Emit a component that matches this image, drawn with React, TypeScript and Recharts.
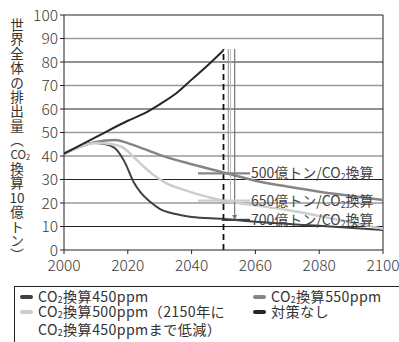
import React from "react";
import { LineChart, Line, XAxis, YAxis, ReferenceLine } from "recharts";

const FONT = "'Noto Sans CJK JP', 'Noto Sans', sans-serif";

// series: year / value (10億トン CO2換算)
const years450 = [2000, 2005, 2009, 2013, 2016, 2019, 2022, 2024, 2027, 2030, 2035, 2040, 2050, 2060, 2080, 2100];
const values450 = [41, 44, 45.5, 45, 43.3, 37.5, 28.5, 24.5, 20.5, 17.5, 15.3, 14, 13.2, 12, 10.3, 8.5];

const years550 = [2000, 2005, 2010, 2016, 2020, 2025, 2030, 2040, 2050, 2060, 2070, 2080, 2090, 2100];
const values550 = [41, 44, 46, 46.8, 45.5, 43, 40.5, 36.5, 33, 29.5, 27, 24.8, 23, 21.3];

const years500 = [2000, 2005, 2010, 2015, 2018, 2020, 2023, 2025, 2028, 2032, 2036, 2041, 2050, 2060, 2070, 2080, 2090, 2100];
const values500 = [41, 44, 45.5, 45, 44, 42, 38, 35.5, 32, 28.5, 26.3, 24.1, 21, 19, 17, 14.5, 11.8, 9];

const yearsNone = [2000, 2010, 2020, 2025, 2030, 2035, 2040, 2045, 2050];
const valuesNone = [41, 48, 55, 58, 62, 66.5, 72.5, 78.5, 85];

const xTicks = [2000, 2020, 2040, 2060, 2080, 2100];
const yTicks = [0, 10, 20, 30, 40, 50, 60, 70, 80, 90, 100];
const gridDark = [true, true, false, true, false, false, true, false, true, false, true];

const budgetLabels = ["500億トン/CO2換算", "650億トン/CO2換算", "700億トン/CO2換算"];
const budgetLevels = [32.6, 21, 12.8];

const yLabelCells = ["世", "界", "全", "体", "の", "排", "出", "量", "︵", "CO2", "換", "算", "10", "億", "ト", "ン", "︶"];

const legendNames = ["CO2換算450ppm", "CO2換算550ppm", "CO2換算500ppm（2150年に CO2換算450ppmまで低減）", "対策なし"];

const zip = (xs: number[], ys: number[]) => xs.map((year, i) => ({ year, v: ys[i] }));

const series = [
  { name: legendNames[0], data: zip(years450, values450), color: "#404040", width: 2 },
  { name: legendNames[1], data: zip(years550, values550), color: "#858585", width: 2.5 },
  { name: legendNames[2], data: zip(years500, values500), color: "#cdcdcd", width: 2.5 },
  { name: legendNames[3], data: zip(yearsNone, valuesNone), color: "#262626", width: 2 },
];

const labelColors = ["#858585", "#cdcdcd", "#404040"];

// "CO2" with a small subscript 2 (svg)
function withSub(text: string, size: number) {
  const parts = text.split("CO2");
  const out: React.ReactNode[] = [];
  parts.forEach((p, i) => {
    if (i > 0) {
      out.push(<tspan key={"c" + i}>CO</tspan>);
      out.push(<tspan key={"s" + i} fontSize={size * 0.62} dy={2}>2</tspan>);
      out.push(<tspan key={"p" + i} dy={-2}>{p}</tspan>);
    } else {
      out.push(<tspan key={"p" + i}>{p}</tspan>);
    }
  });
  return out;
}

function htmlSub(text: string) {
  const parts = text.split("CO2");
  return parts.map((p, i) => (
    <React.Fragment key={i}>
      {i > 0 && (
        <>
          CO<span style={{ fontSize: "0.62em", verticalAlign: "-0.1em" }}>2</span>
        </>
      )}
      {p}
    </React.Fragment>
  ));
}

function YLabel() {
  const cx = 17;
  return (
    <g>
      {yLabelCells.map((c, i) => {
        const cy = 25 + i * 14.4;
        if (c === "CO2") {
          return (
            <text key={i} x={cx - 6.5} y={cy + 4.5} fontSize={11.5} fill="#333" fontFamily={FONT}>
              <tspan>CO</tspan>
              <tspan fontSize={7.5} dy={1}>2</tspan>
            </text>
          );
        }
        return (
          <text key={i} x={cx} y={cy + 5} fontSize={13.6} fill="#333" textAnchor="middle" fontFamily={FONT}>
            {c}
          </text>
        );
      })}
    </g>
  );
}

function BudgetLabel(text: string) {
  return (props: any) => {
    const vb = props.viewBox || {};
    return (
      <text x={vb.x + vb.width + 1} y={vb.y + 5} fontSize={14} fill="#444" fontFamily={FONT}>
        {withSub(text, 14)}
      </text>
    );
  };
}

function ArrowLine(props: any) {
  const { x1, y1, x2, y2, stroke } = props;
  return (
    <g>
      <line x1={x1} y1={y1} x2={x2} y2={y2 - 3} stroke={stroke} strokeWidth={1.2} />
      <path d={`M${x2 - 2.5},${y2 - 5} L${x2 + 2.5},${y2 - 5} L${x2},${y2} Z`} fill={stroke} />
    </g>
  );
}

export default function App() {
  return (
    <div style={{ position: "absolute", left: 0, top: 0, width: 399, height: 342, overflow: "hidden", background: "#fff", fontFamily: FONT }}>
      <LineChart width={399} height={342} margin={{ top: 15, right: 16, bottom: 62, left: 0 }}>
        <XAxis
          dataKey="year"
          type="number"
          domain={[2000, 2100]}
          ticks={xTicks}
          allowDataOverflow
          height={30}
          stroke="#222"
          tickSize={4}
          tickMargin={6}
          tick={{ fontSize: 15.5, fill: "#3a3a3a", fontFamily: FONT, fontWeight: 300 }}
          interval={0}
        />
        <YAxis
          type="number"
          domain={[0, 100]}
          ticks={yTicks}
          width={64}
          stroke="#222"
          tickSize={4}
          tickMargin={2}
          tick={{ fontSize: 15.5, fill: "#3a3a3a", fontFamily: FONT, fontWeight: 300 }}
          interval={0}
          label={{ content: <YLabel /> }}
        />
        {yTicks.slice(1).map((t, i) => (
          <ReferenceLine
            key={t}
            y={t}
            stroke={gridDark[i + 1] ? "#222" : "#9a9a9a"}
            strokeWidth={gridDark[i + 1] ? 1 : 1.6}
          />
        ))}
        <ReferenceLine x={2100} stroke="#222" />
        {series.map((s) => (
          <Line
            key={s.name}
            data={s.data}
            dataKey="v"
            name={s.name}
            type="monotone"
            stroke={s.color}
            strokeWidth={s.width}
            dot={false}
            isAnimationActive={false}
          />
        ))}
        <ReferenceLine segment={[{ x: 2050, y: 0 }, { x: 2050, y: 85.5 }]} stroke="#111" strokeWidth={1.8} strokeDasharray="6 4" />
        <ReferenceLine segment={[{ x: 2051.5, y: 85.5 }, { x: 2051.5, y: budgetLevels[0] }]} stroke="#8a8a8a" strokeWidth={1} />
        <ReferenceLine segment={[{ x: 2052.2, y: 85.5 }, { x: 2052.2, y: budgetLevels[1] }]} stroke="#bdbdbd" strokeWidth={1} />
        <ReferenceLine
          segment={[{ x: 2053.5, y: 85.5 }, { x: 2053.5, y: budgetLevels[2] }]}
          stroke="#777"
          shape={<ArrowLine />}
        />
        {budgetLabels.map((t, i) => (
          <ReferenceLine
            key={t}
            segment={[{ x: i === 2 ? 2049.5 : 2042, y: budgetLevels[i] }, { x: 2058.3, y: budgetLevels[i] }]}
            stroke={labelColors[i]}
            strokeWidth={2.2}
            label={{ content: BudgetLabel(t) }}
          />
        ))}
      </LineChart>
      <div
        style={{
          position: "absolute",
          left: 14,
          top: 286,
          width: 400,
          height: 70,
          border: "1px solid #222",
          boxSizing: "border-box",
          fontSize: 14.2,
          letterSpacing: 0.35,
          color: "#333",
          lineHeight: "15px",
        }}
      >
        {[0, 1, 2, 3].map((i) => {
          const col = i % 2;
          const row = i < 2 ? 0 : 1;
          const s = series[i];
          const text = i === 2 ? s.name.split(" ") : [s.name];
          return (
            <div key={i} style={{ position: "absolute", left: col ? 238 : 5, top: 2 + row * 15, display: "flex" }}>
              <div style={{ width: 13, height: 4.5, borderRadius: 2.5, background: s.color, marginTop: 5.5, marginRight: 5 }} />
              <div>
                {text.map((t, k) => (
                  <div key={k} style={{ whiteSpace: "nowrap" }}>{htmlSub(t)}</div>
                ))}
              </div>
            </div>
          );
        })}
      </div>
    </div>
  );
}
